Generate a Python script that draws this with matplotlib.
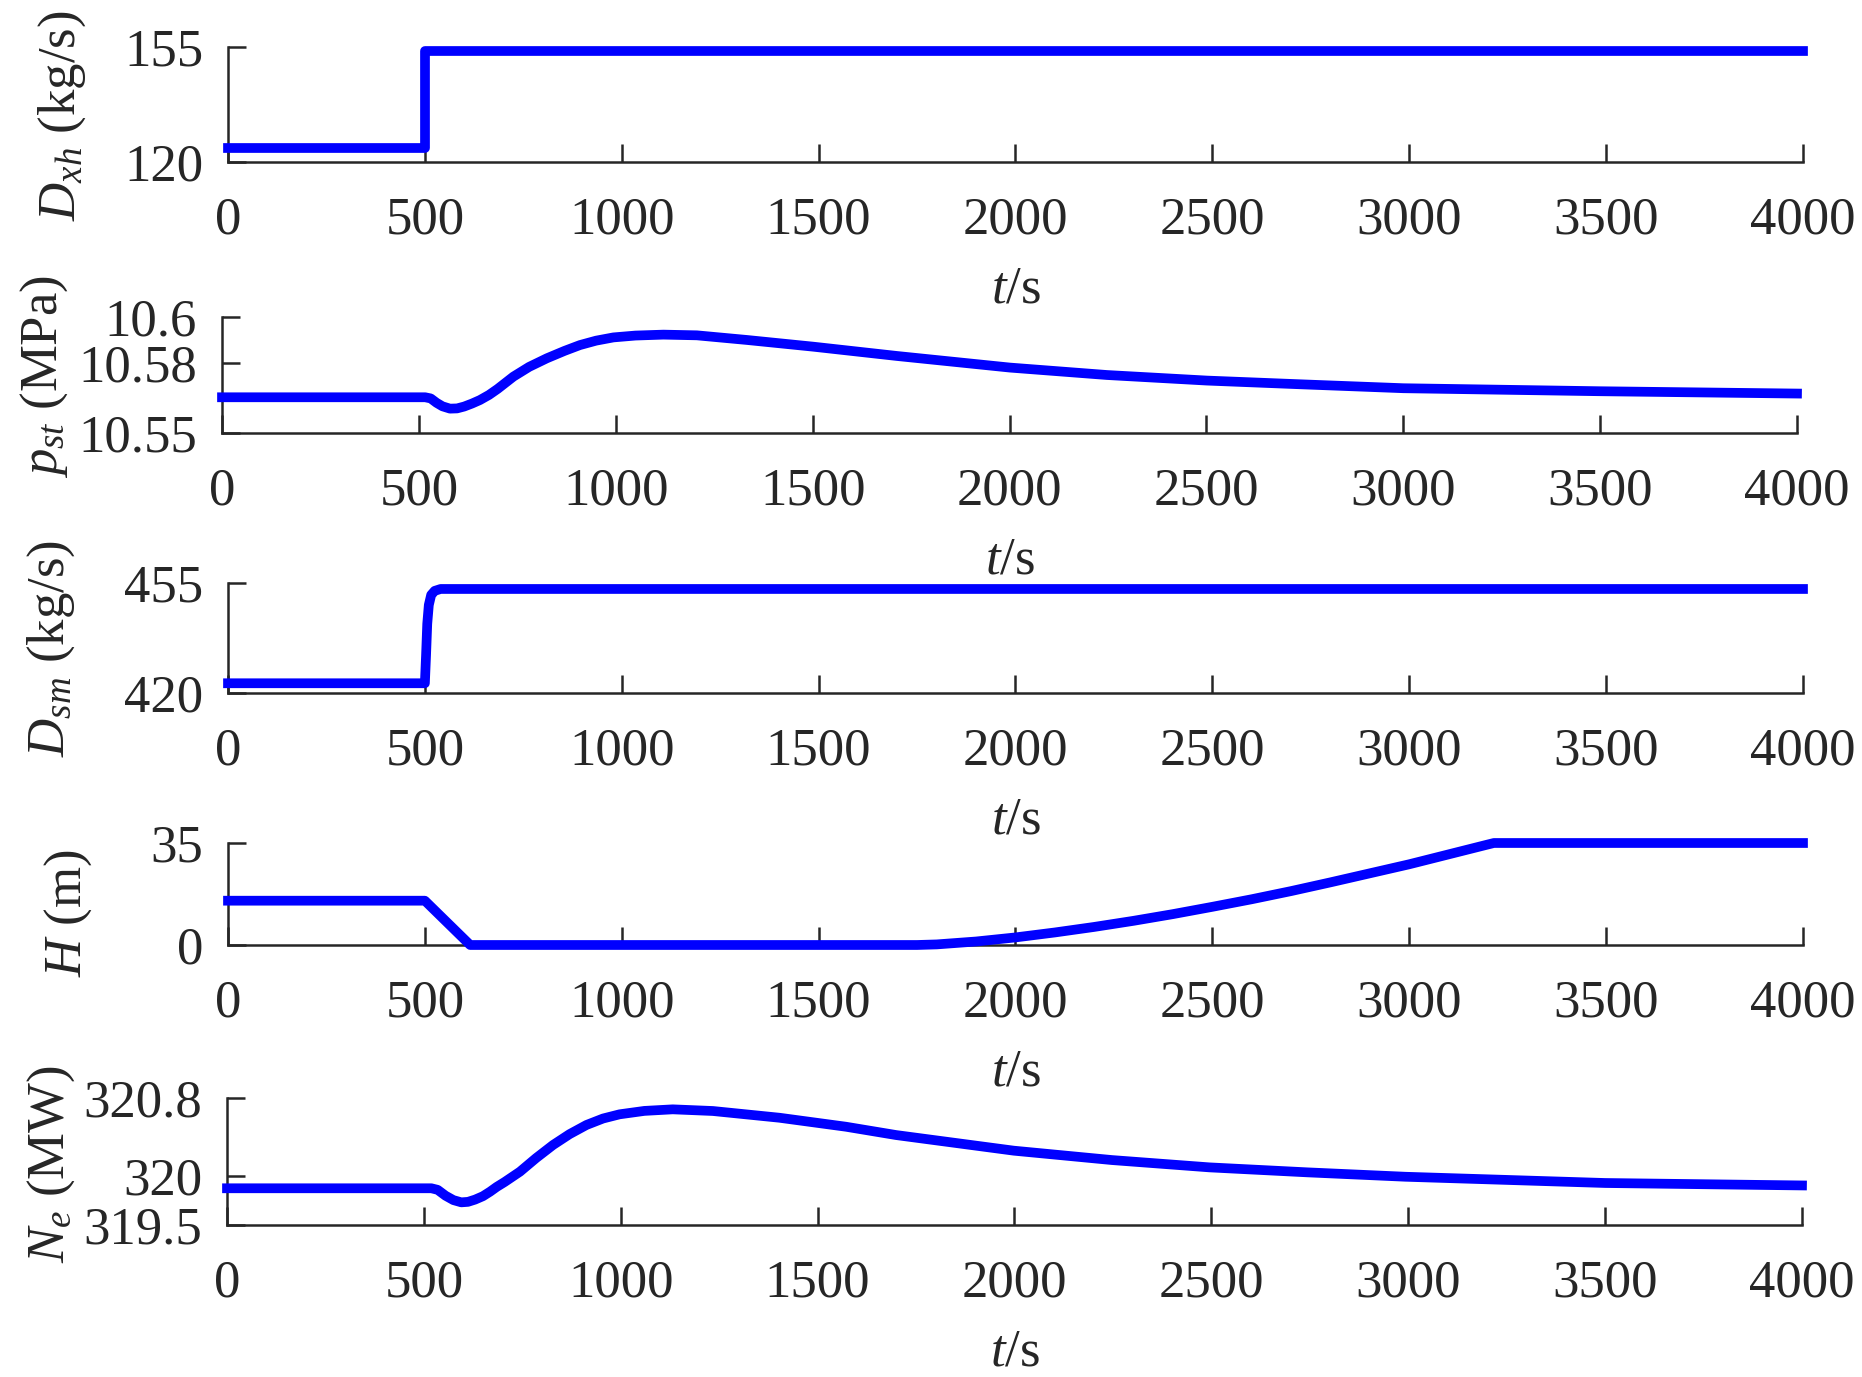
import numpy as np
import matplotlib
matplotlib.use("Agg")
import matplotlib.pyplot as plt

plt.rcParams['font.family'] = ['Liberation Serif', 'DejaVu Serif']
plt.rcParams['mathtext.fontset'] = 'custom'
plt.rcParams['mathtext.rm'] = 'Liberation Serif'
plt.rcParams['mathtext.it'] = 'Liberation Serif:italic'
plt.rcParams['font.size'] = 38

# time axis values (s)
t_xh = [0, 500, 500, 4000]
D_xh = [124.2, 124.2, 153.8, 153.8]

t_pst = [0, 516, 530, 545, 560, 579, 597, 615, 635, 655, 678, 700, 740, 780, 825, 870,
         909, 950, 994, 1050, 1121, 1206, 1333, 1502, 1714, 2001, 2247, 2501, 2738,
         3000, 3500, 4000]
p_st = [10.5654, 10.5654, 10.5649, 10.5630, 10.5615, 10.5605, 10.5606, 10.5614, 10.5627,
        10.5642, 10.5664, 10.5690, 10.5743, 10.5785, 10.5822, 10.5854, 10.5879, 10.5898,
        10.5912, 10.5920, 10.5924, 10.5921, 10.5901, 10.5872, 10.5832, 10.5782, 10.5750,
        10.5726, 10.5710, 10.5693, 10.5680, 10.5670]

t_sm = [0, 500, 503, 506, 510, 516, 525, 540, 4000]
D_sm = [423.1, 423.1, 432.0, 442.0, 448.0, 451.2, 452.5, 453.1, 453.1]

t_H = [0, 500, 615, 1750, 1800, 1900, 2000, 2100, 2200, 2300, 2400, 2500, 2600, 2700,
       2800, 2900, 3000, 3100, 3200, 3215, 4000]
H = [15.2, 15.2, 0, 0, 0.2, 1.2, 2.6, 4.3, 6.2, 8.3, 10.6, 13.1, 15.7, 18.5,
     21.5, 24.6, 27.7, 31.1, 34.5, 35.0, 35.0]

t_Ne = [0, 519, 535, 555, 575, 595, 612, 630, 650, 668, 685, 705, 744, 785, 828, 870,
        913, 955, 997, 1060, 1132, 1234, 1403, 1572, 1699, 1998, 2247, 2495, 2744, 2993,
        3500, 4000]
N_e = [319.876, 319.876, 319.860, 319.800, 319.755, 319.732, 319.737, 319.760, 319.795,
       319.841, 319.890, 319.940, 320.046, 320.185, 320.319, 320.430, 320.524, 320.590,
       320.633, 320.668, 320.684, 320.667, 320.598, 320.506, 320.421, 320.261, 320.165,
       320.090, 320.039, 319.994, 319.930, 319.905]

xticks = [0, 500, 1000, 1500, 2000, 2500, 3000, 3500, 4000]

panels = [
    (t_xh, D_xh, [120, 155], ['120', '155'], r'$D_{xh}$ (kg/s)'),
    (t_pst, p_st, [10.55, 10.58, 10.6], ['10.55', '10.58', '10.6'], r'$p_{st}$ (MPa)'),
    (t_sm, D_sm, [420, 455], ['420', '455'], r'$D_{sm}$ (kg/s)'),
    (t_H, H, [0, 35], ['0', '35'], r'$H$ (m)'),
    (t_Ne, N_e, [319.5, 320, 320.8], ['319.5', '320', '320.8'], r'$N_e$ (MW)'),
]

positions = [
    [0.12245, 0.88235, 0.84586, 0.08351],
    [0.11923, 0.68555, 0.84586, 0.08424],
    [0.12245, 0.49673, 0.84586, 0.07988],
    [0.12245, 0.31373, 0.84586, 0.07407],
    [0.12191, 0.11038, 0.84586, 0.09223],
]
ylabel_xy = [(-0.089, 0.40), (-0.0965, 0.49), (-0.096, 0.40), (-0.085, 0.31), (-0.095, 0.48)]

axc = '#262626'
fig = plt.figure(figsize=(18.62, 13.77), dpi=100)

for i, (t, y, yt, ytl, lab) in enumerate(panels):
    ax = fig.add_axes(positions[i])
    ax.plot(t, y, color='#0000ff', linewidth=7, clip_on=False, zorder=3,
            solid_joinstyle='round')
    ax.set_xlim(0, 4000)
    ax.set_ylim(yt[0], yt[-1])
    ax.set_xticks(xticks)
    ax.set_xticklabels([str(v) for v in xticks])
    ax.set_yticks(yt)
    ax.set_yticklabels(ytl)
    for s in ['top', 'right']:
        ax.spines[s].set_visible(False)
    for s in ['left', 'bottom']:
        ax.spines[s].set_color(axc)
        ax.spines[s].set_linewidth(1.8)
    ax.tick_params(direction='in', length=13, width=1.8, colors=axc, labelcolor=axc)
    ax.tick_params(axis='x', pad=25)
    ax.tick_params(axis='y', pad=18)
    ax.set_xlabel(r'$t$/s', color=axc, labelpad=15)
    ax.set_ylabel(lab, color=axc)
    ax.yaxis.set_label_coords(*ylabel_xy[i])

fig.savefig('out.png', dpi=100)
